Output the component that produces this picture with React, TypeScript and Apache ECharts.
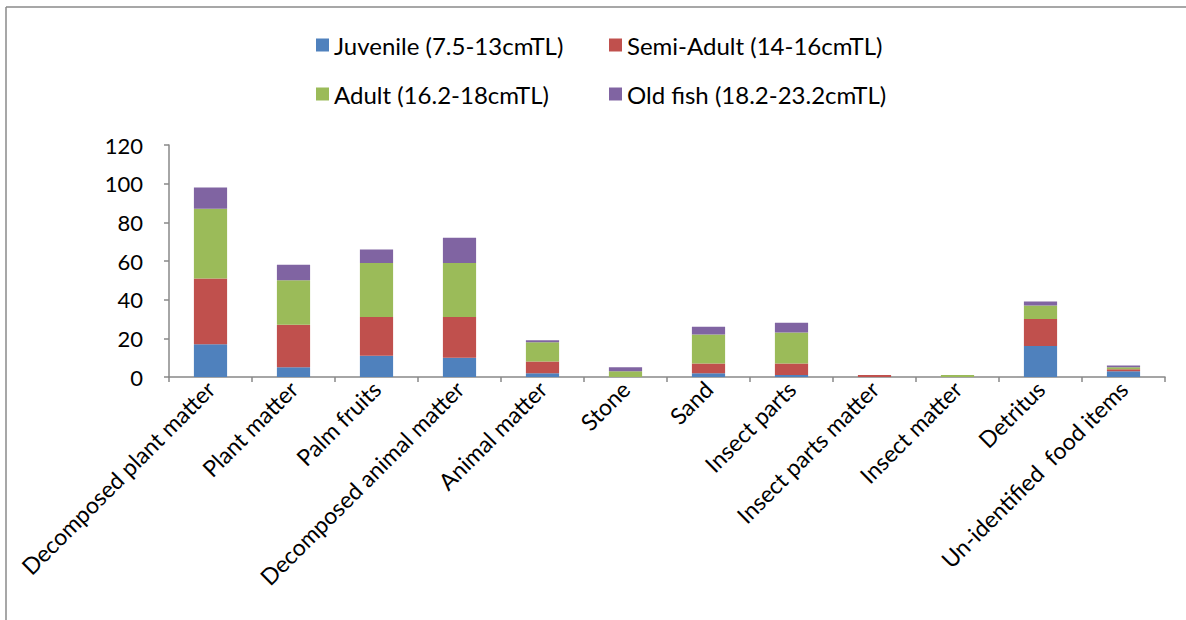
import React, { useEffect, useRef } from "react";
import * as echarts from "echarts";

const categories = [
  "Decomposed plant matter",
  "Plant matter",
  "Palm fruits",
  "Decomposed animal matter",
  "Animal matter",
  "Stone",
  "Sand",
  "Insect parts",
  "Insect parts matter",
  "Insect matter",
  "Detritus",
  "Un-identified  food items",
];

const juvenile = [17, 5, 11, 10, 2, 0, 2, 1, 0, 0, 16, 3];
const semiAdult = [34, 22, 20, 21, 6, 0, 5, 6, 1, 0, 14, 1];
const adult = [36, 23, 28, 28, 10, 3, 15, 16, 0, 1, 7, 1];
const oldFish = [11, 8, 7, 13, 1, 2, 4, 5, 0, 0, 2, 1];

const seriesNames = [
  "Juvenile (7.5-13cmTL)",
  "Semi-Adult (14-16cmTL)",
  "Adult (16.2-18cmTL)",
  "Old fish (18.2-23.2cmTL)",
];
const colors = ["#4F81BD", "#C0504D", "#9BBB59", "#8064A2"];
const yTicks = [0, 20, 40, 60, 80, 100, 120];

const FONT = "Lato, 'Open Sans', sans-serif";

export default function App() {
  const ref = useRef<HTMLDivElement>(null);
  useEffect(() => {
    if (!ref.current) return;
    const chart = echarts.init(ref.current, null, { renderer: "svg" });
    const values = [juvenile, semiAdult, adult, oldFish];
    const legendText = { fontSize: 24, color: "#000", fontFamily: FONT, lineHeight: 26 };
    chart.setOption({
      animation: false,
      backgroundColor: "#ffffff",
      textStyle: { fontFamily: FONT },
      color: colors,
      legend: [
        {
          data: [seriesNames[0], seriesNames[2]],
          orient: "vertical",
          left: 311,
          top: 27,
          itemWidth: 13,
          itemHeight: 13,
          itemGap: 23,
          icon: "rect",
          textStyle: legendText,
        },
        {
          data: [seriesNames[1], seriesNames[3]],
          orient: "vertical",
          left: 604,
          top: 27,
          itemWidth: 13,
          itemHeight: 13,
          itemGap: 23,
          icon: "rect",
          textStyle: legendText,
        },
      ],
      grid: { left: 169, right: 21, top: 145, bottom: 243, containLabel: false },
      xAxis: {
        type: "category",
        data: categories,
        axisLine: { lineStyle: { color: "#888888", width: 1.5 } },
        axisTick: { show: true, length: 5, alignWithLabel: false, lineStyle: { color: "#888888", width: 1.5 } },
        axisLabel: {
          interval: 0,
          rotate: 45,
          fontSize: 23,
          color: "#000",
          fontFamily: FONT,
          margin: 8,
        },
      },
      yAxis: {
        type: "value",
        min: 0,
        max: 120,
        interval: 20,
        splitLine: { show: false },
        axisLine: { show: true, lineStyle: { color: "#888888", width: 1.5 } },
        axisTick: { show: true, length: 5, lineStyle: { color: "#888888", width: 1.5 } },
        axisLabel: {
          fontSize: 22,
          color: "#000",
          fontFamily: FONT,
          margin: 26,
          customValues: yTicks,
        },
      },
      graphic: [
        {
          type: "line",
          shape: { x1: 6, y1: 7, x2: 6, y2: 620 },
          style: { stroke: "#8a8a8a", lineWidth: 1.5 },
          silent: true,
        },
        {
          type: "line",
          shape: { x1: 6, y1: 7, x2: 1186, y2: 7 },
          style: { stroke: "#8a8a8a", lineWidth: 1.5 },
          silent: true,
        },
      ],
      series: seriesNames.map((name, i) => ({
        name,
        type: "bar",
        stack: "total",
        data: values[i],
        barCategoryGap: "60%",
        itemStyle: { color: colors[i] },
      })),
    });
    return () => chart.dispose();
  }, []);
  return <div ref={ref} style={{ width: 1186, height: 620, position: "absolute", left: 0, top: 0 }} />;
}
